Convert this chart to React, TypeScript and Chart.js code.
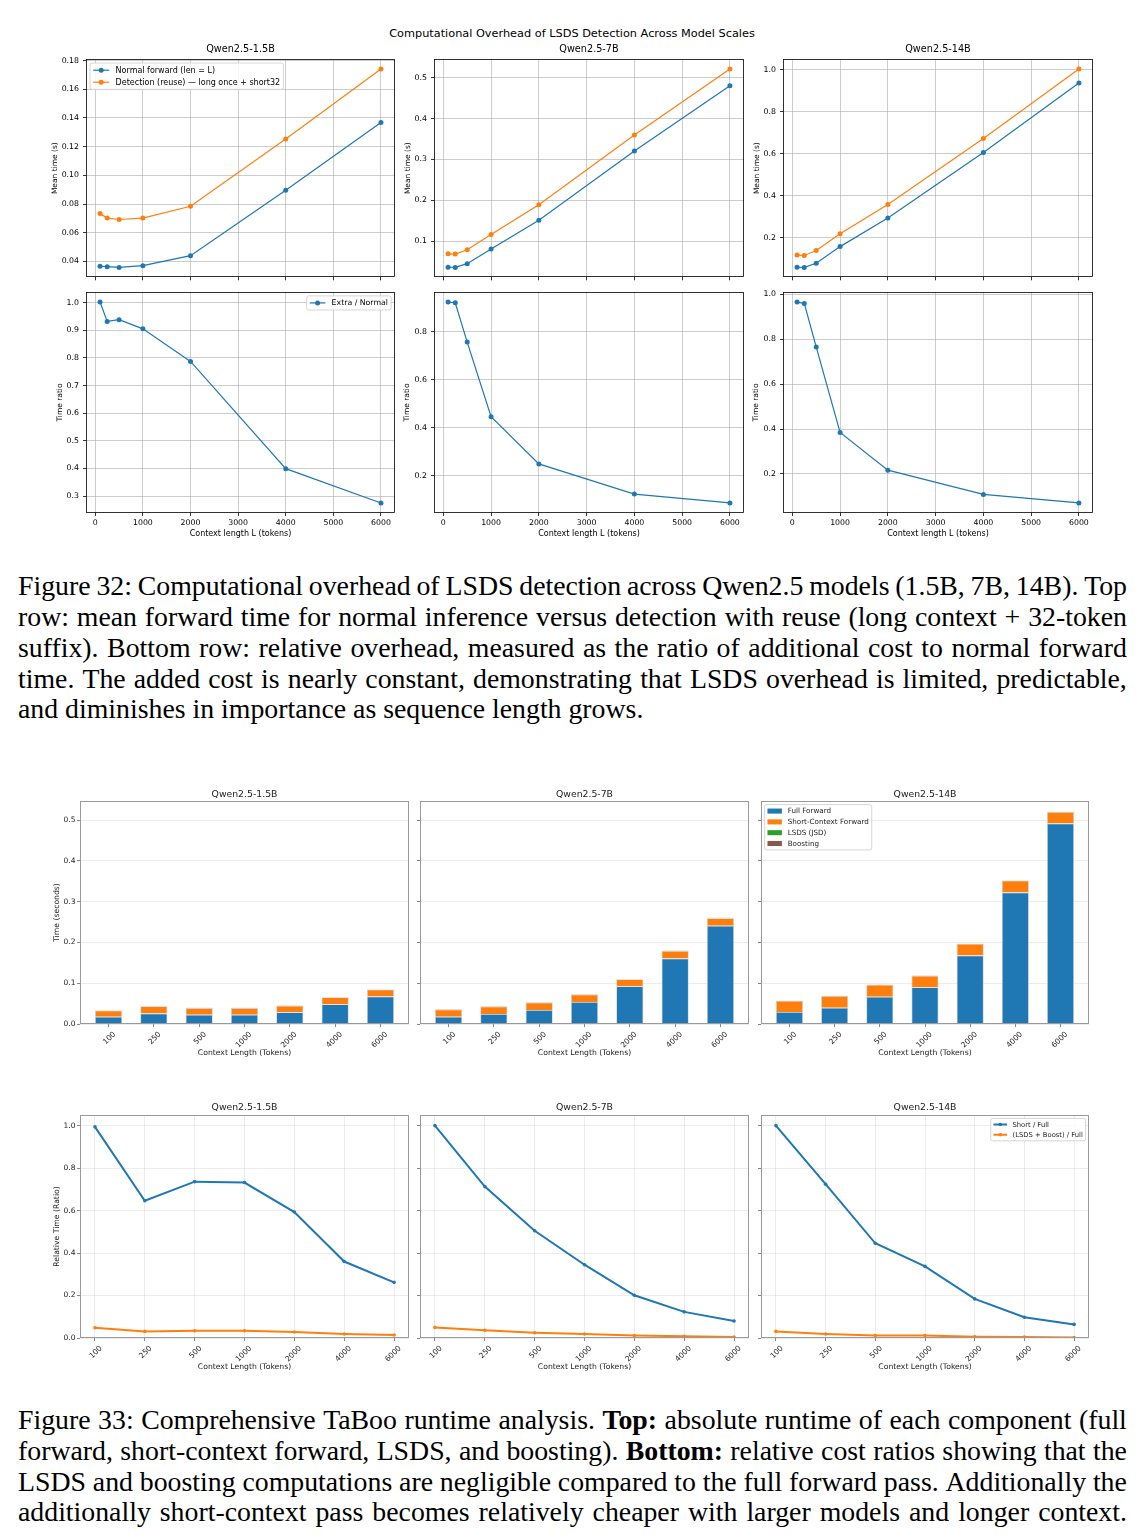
import React, { useEffect, useRef } from 'react';
import { Chart, registerables } from 'chart.js';

Chart.register(...registerables);

const SANS = "'DejaVu Sans', 'Liberation Sans', sans-serif";
const SERIF = "'Liberation Serif', 'DejaVu Serif', serif";
const BLUE = '#1f77b4';
const ORANGE = '#ff7f0e';
const GREEN = '#2ca02c';
const BROWN = '#8c564b';

// ---------------- data ----------------
const contextLengths = [100, 250, 500, 1000, 2000, 4000, 6000];
const contextLabels = ['100', '250', '500', '1000', '2000', '4000', '6000'];
const modelNames = ['Qwen2.5-1.5B', 'Qwen2.5-7B', 'Qwen2.5-14B'];

// Figure 32 (seconds, ratio)
const normalForward15 = [0.0366, 0.0363, 0.0358, 0.037, 0.044, 0.0896, 0.1369];
const detectionReuse15 = [0.0733, 0.0702, 0.0692, 0.0702, 0.0784, 0.1254, 0.1742];
const extraRatio15 = [1.002, 0.932, 0.938, 0.905, 0.787, 0.399, 0.275];
const normalForward7 = [0.0358, 0.0355, 0.0446, 0.0804, 0.151, 0.3206, 0.4806];
const detectionReuse7 = [0.0688, 0.0682, 0.0786, 0.1163, 0.1888, 0.3597, 0.5218];
const extraRatio7 = [0.924, 0.921, 0.757, 0.446, 0.249, 0.123, 0.086];
const normalForward14 = [0.06, 0.0592, 0.079, 0.158, 0.294, 0.606, 0.936];
const detectionReuse14 = [0.118, 0.116, 0.1394, 0.219, 0.358, 0.672, 1.003];
const extraRatio14 = [0.966, 0.96, 0.766, 0.385, 0.217, 0.109, 0.071];

const lengthTicks = [0, 1000, 2000, 3000, 4000, 5000, 6000];
const meanTicks15 = [0.04, 0.06, 0.08, 0.1, 0.12, 0.14, 0.16, 0.18];
const meanTicks7 = [0.1, 0.2, 0.3, 0.4, 0.5];
const meanTicks14 = [0.2, 0.4, 0.6, 0.8, 1.0];
const ratioTicks15 = [0.3, 0.4, 0.5, 0.6, 0.7, 0.8, 0.9, 1.0];
const ratioTicks7 = [0.2, 0.4, 0.6, 0.8];
const ratioTicks14 = [0.2, 0.4, 0.6, 0.8, 1.0];

// Figure 33 (seconds)
const fullForward15 = [0.018, 0.026, 0.023, 0.023, 0.029, 0.0486, 0.0675];
const shortForward15 = [0.015, 0.0175, 0.016, 0.016, 0.016, 0.017, 0.017];
const lsdsJsd15 = [0.0004, 0.0004, 0.0004, 0.0004, 0.0005, 0.0005, 0.0005];
const boosting15 = [0.0006, 0.0006, 0.0006, 0.0006, 0.0006, 0.0006, 0.0007];
const fullForward7 = [0.018, 0.0246, 0.0344, 0.054, 0.0926, 0.1607, 0.241];
const shortForward7 = [0.018, 0.0187, 0.0186, 0.0188, 0.0171, 0.0186, 0.0187];
const lsdsJsd7 = [0.0004, 0.0004, 0.0004, 0.0004, 0.0005, 0.0005, 0.0005];
const boosting7 = [0.0006, 0.0006, 0.0006, 0.0006, 0.0006, 0.0006, 0.0006];
const fullForward14 = [0.0295, 0.04, 0.067, 0.09, 0.168, 0.323, 0.492];
const shortForward14 = [0.0275, 0.0287, 0.0295, 0.0287, 0.029, 0.029, 0.028];
const lsdsJsd14 = [0.0004, 0.0004, 0.0004, 0.0004, 0.0004, 0.0005, 0.0005];
const boosting14 = [0.0006, 0.0006, 0.0006, 0.0006, 0.0006, 0.0006, 0.0006];

// Figure 33 relative time (ratio)
const shortOverFull15 = [0.994, 0.646, 0.736, 0.732, 0.593, 0.36, 0.262];
const lsdsBoostOverFull15 = [0.048, 0.031, 0.034, 0.034, 0.028, 0.019, 0.014];
const shortOverFull7 = [1.0, 0.713, 0.505, 0.345, 0.201, 0.123, 0.08];
const lsdsBoostOverFull7 = [0.05, 0.036, 0.025, 0.019, 0.012, 0.008, 0.005];
const shortOverFull14 = [1.0, 0.724, 0.446, 0.337, 0.184, 0.098, 0.064];
const lsdsBoostOverFull14 = [0.031, 0.019, 0.012, 0.012, 0.006, 0.005, 0.002];

const barTicks = [0, 0.1, 0.2, 0.3, 0.4, 0.5];
const relTicks = [0, 0.2, 0.4, 0.6, 0.8, 1.0];

const suptitle = 'Computational Overhead of LSDS Detection Across Model Scales';

const caption32 = [
  'Figure 32: Computational overhead of LSDS detection across Qwen2.5 models (1.5B, 7B, 14B). Top',
  'row: mean forward time for normal inference versus detection with reuse (long context + 32-token',
  'suffix). Bottom row: relative overhead, measured as the ratio of additional cost to normal forward',
  'time. The added cost is nearly constant, demonstrating that LSDS overhead is limited, predictable,',
  'and diminishes in importance as sequence length grows.',
];
const caption33 = [
  'Figure 33: Comprehensive TaBoo runtime analysis. **Top:** absolute runtime of each component (full',
  'forward, short-context forward, LSDS, and boosting). **Bottom:** relative cost ratios showing that the',
  'LSDS and boosting computations are negligible compared to the full forward pass. Additionally the',
  'additionally short-context pass becomes relatively cheaper with larger models and longer context.',
];

// ---------------- helpers ----------------
function padRange(vals: number[], frac = 0.05): [number, number] {
  const lo = Math.min(...vals);
  const hi = Math.max(...vals);
  const d = (hi - lo) * frac;
  return [lo - d, hi + d];
}

function roundRectPath(ctx: any, x: number, y: number, w: number, h: number, r: number) {
  ctx.beginPath();
  ctx.moveTo(x + r, y);
  ctx.lineTo(x + w - r, y);
  ctx.arcTo(x + w, y, x + w, y + r, r);
  ctx.lineTo(x + w, y + h - r);
  ctx.arcTo(x + w, y + h, x + w - r, y + h, r);
  ctx.lineTo(x + r, y + h);
  ctx.arcTo(x, y + h, x, y + h - r, r);
  ctx.lineTo(x, y + r);
  ctx.arcTo(x, y, x + r, y, r);
  ctx.closePath();
}

const framePlugin = {
  id: 'frame',
  afterDatasetsDraw(chart: any, _a: any, opts: any) {
    if (!opts || !opts.color) return;
    const { ctx, chartArea: a } = chart;
    ctx.save();
    ctx.strokeStyle = opts.color;
    ctx.lineWidth = opts.width || 1;
    const l = Math.round(a.left) + 0.5;
    const t = Math.round(a.top) + 0.5;
    const r = Math.round(a.right) - 0.5;
    const b = Math.round(a.bottom) - 0.5;
    ctx.strokeRect(l, t, r - l, b - t);
    ctx.restore();
  },
};

const boxLegendPlugin = {
  id: 'boxLegend',
  afterDatasetsDraw(chart: any, _a: any, opts: any) {
    if (!opts || !opts.show) return;
    const { ctx, chartArea: a } = chart;
    const f = opts.size;
    const ds = chart.data.datasets;
    ctx.save();
    ctx.font = `${f}px ${SANS}`;
    const pad = 0.4 * f;
    const hl = 2 * f;
    const htp = 0.8 * f;
    const row = f;
    const gap = 0.5 * f;
    const axp = 0.5 * f;
    const tw = Math.max(...ds.map((d: any) => ctx.measureText(d.label).width));
    const w = 2 * pad + hl + htp + tw;
    const h = 2 * pad + ds.length * row + (ds.length - 1) * gap;
    const x = opts.corner === 'tl' ? a.left + axp : a.right - axp - w;
    const y = a.top + axp;
    roundRectPath(ctx, x, y, w, h, 0.25 * f);
    ctx.fillStyle = 'rgba(255,255,255,0.85)';
    ctx.fill();
    ctx.strokeStyle = '#cccccc';
    ctx.lineWidth = 0.8;
    ctx.stroke();
    ds.forEach((d: any, i: number) => {
      const cy = y + pad + i * (row + gap) + row / 2;
      const hx = x + pad;
      if (opts.kind === 'box') {
        ctx.fillStyle = d.backgroundColor;
        ctx.fillRect(hx, cy - 0.35 * f, hl, 0.7 * f);
      } else {
        ctx.strokeStyle = d.borderColor;
        ctx.lineWidth = d.borderWidth;
        ctx.beginPath();
        ctx.moveTo(hx, cy);
        ctx.lineTo(hx + hl, cy);
        ctx.stroke();
        if (d.pointRadius > 0) {
          ctx.fillStyle = d.borderColor;
          ctx.beginPath();
          ctx.arc(hx + hl / 2, cy, d.pointRadius, 0, Math.PI * 2);
          ctx.fill();
        }
      }
      ctx.fillStyle = opts.textColor || '#000';
      ctx.textBaseline = 'middle';
      ctx.textAlign = 'left';
      ctx.fillText(d.label, hx + hl + htp, cy + 0.5);
    });
    ctx.restore();
  },
};

Chart.register(framePlugin as any, boxLegendPlugin as any);
Chart.defaults.font.family = SANS;

type Box = { l: number; t: number; r: number; b: number };
type AxisSpec = {
  min: number;
  max: number;
  ticks: number[];
  fmt: (v: number) => string;
  tickSize: number;
  tickLen: number;
  tickPad: number;
  rotate?: number;
  labelOffset?: number;
  grid: boolean;
  title?: string;
  titleSize?: number;
  titleDist?: number;
};
type Theme = { spine: string; spineW: number; grid: string; tick: string; text: string };
type PanelSpec = {
  key: string;
  type: 'line' | 'bar';
  plot: Box;
  pad: Box;
  theme: Theme;
  title?: { text: string; size: number };
  x: AxisSpec;
  y: AxisSpec;
  datasets: () => any[];
  legend: any;
};

function axisOptions(a: AxisSpec, dir: 'x' | 'y', pad: Box, th: Theme, stacked: boolean) {
  const tsz = a.titleSize || 8;
  const lh = tsz * 1.2;
  const titlePad =
    dir === 'x'
      ? { top: 0, bottom: Math.max(0, pad.b - (a.titleDist || 0) - lh / 2) }
      : { top: Math.max(0, pad.l - (a.titleDist || 0) - lh / 2), bottom: 0 };
  const opts: any = {
    type: 'linear',
    min: a.min,
    max: a.max,
    bounds: 'data',
    offset: false,
    afterBuildTicks: (s: any) => {
      s.ticks = a.ticks.map((v) => ({ value: v }));
    },
    afterFit: (s: any) => {
      if (dir === 'x') s.height = pad.b;
      else s.width = pad.l;
    },
    grid: {
      display: true,
      offset: false,
      drawOnChartArea: a.grid,
      color: th.grid,
      lineWidth: 0.8,
      drawTicks: true,
      tickLength: a.tickLen,
      tickColor: th.tick,
      tickWidth: 0.8,
    },
    border: { display: false },
    ticks: {
      autoSkip: false,
      minRotation: a.rotate || 0,
      maxRotation: a.rotate || 0,
      labelOffset: a.labelOffset || 0,
      padding: a.tickPad,
      color: th.text,
      font: { family: SANS, size: a.tickSize, lineHeight: 1.2 },
      callback: (v: any) => a.fmt(Number(v)),
    },
    title: a.title
      ? {
          display: true,
          text: a.title,
          color: th.text,
          font: { family: SANS, size: tsz, lineHeight: 1.2 },
          padding: titlePad,
        }
      : { display: false },
  };
  if (stacked) opts.stacked = true;
  return opts;
}

function buildConfig(s: PanelSpec): any {
  const th = s.theme;
  const titleH = s.title ? s.title.size * 1.2 : 0;
  return {
    type: s.type,
    data: { datasets: s.datasets() },
    options: {
      responsive: false,
      animation: false,
      events: [],
      layout: {
        autoPadding: false,
        padding: { left: 0, right: s.pad.r, top: s.title ? 0 : s.pad.t, bottom: 0 },
      },
      plugins: {
        legend: { display: false },
        tooltip: { enabled: false },
        title: s.title
          ? {
              display: true,
              text: s.title.text,
              fullSize: false,
              color: th.text,
              font: { family: SANS, size: s.title.size, weight: 'normal', lineHeight: 1.2 },
              padding: { top: 0, bottom: Math.max(0, s.pad.t - titleH) },
            }
          : { display: false },
        frame: { color: th.spine, width: th.spineW },
        boxLegend: s.legend ? { show: true, ...s.legend } : { show: false },
      },
      scales: {
        x: axisOptions(s.x, 'x', s.pad, th, false),
        y: axisOptions(s.y, 'y', s.pad, th, s.type === 'bar'),
      },
    },
  };
}

function lineDs(label: string, xs: number[], ys: number[], color: string, lw: number, r: number, order: number) {
  return {
    label,
    data: xs.map((x, i) => ({ x, y: ys[i] })),
    borderColor: color,
    backgroundColor: color,
    borderWidth: lw,
    pointRadius: r,
    pointHoverRadius: r,
    pointBackgroundColor: color,
    pointBorderWidth: 0,
    tension: 0,
    fill: false,
    order,
  };
}

function barDs(label: string, ys: number[], color: string) {
  return {
    label,
    data: ys.map((y, i) => ({ x: i, y })),
    backgroundColor: color,
    borderColor: '#cfcfcf',
    borderWidth: 0.8,
    borderSkipped: 'start',
    stack: 'all',
    barPercentage: 0.6,
    categoryPercentage: 1.0,
  };
}

// ---------------- layout ----------------
const THEME32: Theme = { spine: '#000000', spineW: 0.8, grid: 'rgba(176,176,176,0.8)', tick: '#000000', text: '#000000' };
const THEME33: Theme = { spine: '#9a9a9a', spineW: 1, grid: 'rgba(176,176,176,0.3)', tick: '#666666', text: '#222222' };

const COLS32 = [
  [86, 395],
  [434, 744],
  [783, 1093],
];
const COLS33 = [
  [80, 409],
  [420, 749],
  [761, 1089],
];

const fig32Series = [
  { normal: normalForward15, detect: detectionReuse15, ratio: extraRatio15, meanTicks: meanTicks15, dec: 2, ratioTicks: ratioTicks15 },
  { normal: normalForward7, detect: detectionReuse7, ratio: extraRatio7, meanTicks: meanTicks7, dec: 1, ratioTicks: ratioTicks7 },
  { normal: normalForward14, detect: detectionReuse14, ratio: extraRatio14, meanTicks: meanTicks14, dec: 1, ratioTicks: ratioTicks14 },
];
const fig33Bars = [
  { full: fullForward15, short: shortForward15, lsds: lsdsJsd15, boost: boosting15 },
  { full: fullForward7, short: shortForward7, lsds: lsdsJsd7, boost: boosting7 },
  { full: fullForward14, short: shortForward14, lsds: lsdsJsd14, boost: boosting14 },
];
const fig33Ratios = [
  { short: shortOverFull15, other: lsdsBoostOverFull15 },
  { short: shortOverFull7, other: lsdsBoostOverFull7 },
  { short: shortOverFull14, other: lsdsBoostOverFull14 },
];

function makePanels(): PanelSpec[] {
  const panels: PanelSpec[] = [];
  const xr32 = padRange(contextLengths);
  const meanTitleDist = [31, 26, 26];
  const ratioTitleDist = [26, 27, 27];
  fig32Series.forEach((m, i) => {
    const [l, r] = COLS32[i];
    const yr = padRange([...m.normal, ...m.detect]);
    panels.push({
      key: 'mean' + i,
      type: 'line',
      theme: THEME32,
      plot: { l, t: 59, r, b: 280 },
      pad: { l: 46, t: 15, r: 10, b: 6 },
      title: { text: modelNames[i], size: 9.7 },
      x: { min: xr32[0], max: xr32[1], ticks: lengthTicks, fmt: () => '', tickSize: 7.8, tickLen: 3, tickPad: 2, grid: true },
      y: {
        min: yr[0], max: yr[1], ticks: m.meanTicks, fmt: (v) => v.toFixed(m.dec),
        tickSize: 7.8, tickLen: 3, tickPad: 4, grid: true,
        title: 'Mean time (s)', titleSize: 7.5, titleDist: meanTitleDist[i],
      },
      datasets: () => [
        lineDs('Normal forward (len = L)', contextLengths, m.normal, BLUE, 1.2, 2.5, 1),
        lineDs('Detection (reuse) — long once + short32', contextLengths, m.detect, ORANGE, 1.2, 2.5, 0),
      ],
      legend: i === 0 ? { corner: 'tl', size: 8, kind: 'line' } : null,
    });
    const rr = padRange(m.ratio);
    panels.push({
      key: 'ratio' + i,
      type: 'line',
      theme: THEME32,
      plot: { l, t: 292, r, b: 513 },
      pad: { l: 46, t: 10, r: 10, b: 28 },
      x: {
        min: xr32[0], max: xr32[1], ticks: lengthTicks, fmt: (v) => String(v),
        tickSize: 7.8, tickLen: 3, tickPad: 2.3, grid: true,
        title: 'Context length L (tokens)', titleSize: 8, titleDist: 21,
      },
      y: {
        min: rr[0], max: rr[1], ticks: m.ratioTicks, fmt: (v) => v.toFixed(1),
        tickSize: 7.8, tickLen: 3, tickPad: 4, grid: true,
        title: 'Time ratio', titleSize: 7.5, titleDist: ratioTitleDist[i],
      },
      datasets: () => [lineDs('Extra / Normal', contextLengths, m.ratio, BLUE, 1.2, 2.5, 0)],
      legend: i === 0 ? { corner: 'tr', size: 7.8, kind: 'line' } : null,
    });
  });

  const idx = contextLengths.map((_, i) => i);
  const barHalf = 0.3;
  const barSpan = idx.length - 1 + 2 * barHalf;
  const barX: [number, number] = [-barHalf - 0.05 * barSpan, idx.length - 1 + barHalf + 0.05 * barSpan];
  const totals = fig33Bars.flatMap((m) => m.full.map((v, i) => v + m.short[i] + m.lsds[i] + m.boost[i]));
  const barYMax = Math.max(...totals) * 1.05;
  const lineX = padRange(idx);
  const allRatios = fig33Ratios.flatMap((m) => [...m.short, ...m.other]);
  const relTop = Math.max(...allRatios) + 0.05 * (Math.max(...allRatios) - Math.min(...allRatios));

  fig33Bars.forEach((m, i) => {
    const [l, r] = COLS33[i];
    panels.push({
      key: 'bar' + i,
      type: 'bar',
      theme: THEME33,
      plot: { l, t: 801, r, b: 1024 },
      pad: { l: 44, t: 12, r: 10, b: 36 },
      title: { text: modelNames[i], size: 9.3 },
      x: {
        min: barX[0], max: barX[1], ticks: idx, fmt: (v) => contextLabels[v] ?? '',
        tickSize: 7.5, tickLen: 3, tickPad: 3, rotate: 45, labelOffset: 6, grid: false,
        title: 'Context Length (Tokens)', titleSize: 7.7, titleDist: 29,
      },
      y: {
        min: 0, max: barYMax, ticks: barTicks, fmt: (v) => (i === 0 ? v.toFixed(1) : ''),
        tickSize: 7.5, tickLen: 3, tickPad: 1.5, grid: true,
        title: i === 0 ? 'Time (seconds)' : undefined, titleSize: 7.7, titleDist: 23,
      },
      datasets: () => [
        barDs('Full Forward', m.full, BLUE),
        barDs('Short-Context Forward', m.short, ORANGE),
        barDs('LSDS (JSD)', m.lsds, GREEN),
        barDs('Boosting', m.boost, BROWN),
      ],
      legend: i === 2 ? { corner: 'tl', size: 7.2, kind: 'box', textColor: '#222' } : null,
    });
  });

  fig33Ratios.forEach((m, i) => {
    const [l, r] = COLS33[i];
    panels.push({
      key: 'rel' + i,
      type: 'line',
      theme: THEME33,
      plot: { l, t: 1115, r, b: 1338 },
      pad: { l: 44, t: 13, r: 10, b: 36 },
      title: { text: modelNames[i], size: 9.3 },
      x: {
        min: lineX[0], max: lineX[1], ticks: idx, fmt: (v) => contextLabels[v] ?? '',
        tickSize: 7.5, tickLen: 3, tickPad: 3, rotate: 45, labelOffset: 6, grid: true,
        title: 'Context Length (Tokens)', titleSize: 7.7, titleDist: 29,
      },
      y: {
        min: 0, max: relTop, ticks: relTicks, fmt: (v) => (i === 0 ? v.toFixed(1) : ''),
        tickSize: 7.5, tickLen: 3, tickPad: 1.5, grid: true,
        title: i === 0 ? 'Relative Time (Ratio)' : undefined, titleSize: 7.7, titleDist: 23,
      },
      datasets: () => [
        lineDs('Short / Full', idx, m.short, BLUE, 2, 1.8, 1),
        lineDs('(LSDS + Boost) / Full', idx, m.other, ORANGE, 2, 1.8, 0),
      ],
      legend: i === 2 ? { corner: 'tr', size: 6.8, kind: 'line', textColor: '#222' } : null,
    });
  });
  return panels;
}

function ChartPanel({ spec }: { spec: PanelSpec }) {
  const ref = useRef<HTMLCanvasElement>(null);
  useEffect(() => {
    if (!ref.current) return;
    const chart = new Chart(ref.current, buildConfig(spec));
    return () => chart.destroy();
  }, []);
  const w = spec.plot.r - spec.plot.l + spec.pad.l + spec.pad.r;
  const h = spec.plot.b - spec.plot.t + spec.pad.t + spec.pad.b;
  return (
    <canvas
      ref={ref}
      width={w}
      height={h}
      style={{ position: 'absolute', left: spec.plot.l - spec.pad.l, top: spec.plot.t - spec.pad.t, width: w, height: h }}
    />
  );
}

const CAP_FS = 27.8;

function renderWord(wd: string, i: number) {
  const bold = wd.startsWith('**') && wd.endsWith('**');
  const t = bold ? wd.slice(2, -2) : wd;
  return (
    <span key={i} style={{ fontWeight: bold ? 'bold' : 'normal' }}>
      {t}
    </span>
  );
}

function CaptionLine({ text, yc, justify }: { text: string; yc: number; justify: boolean }) {
  const words = text.split(' ');
  const base: any = {
    position: 'absolute',
    left: 18,
    width: 1109,
    top: yc - 16,
    height: 31,
    lineHeight: '31px',
    fontFamily: SERIF,
    fontSize: CAP_FS,
    color: '#000',
    whiteSpace: 'nowrap',
  };
  if (justify) {
    return <div style={{ ...base, display: 'flex', justifyContent: 'space-between' }}>{words.map(renderWord)}</div>;
  }
  return (
    <div style={base}>
      {words.map((wd, i) => (
        <React.Fragment key={i}>
          {i > 0 ? ' ' : ''}
          {renderWord(wd, i)}
        </React.Fragment>
      ))}
    </div>
  );
}

const cap32Y = [586, 617, 648, 679, 709];
const cap33Y = [1420, 1451, 1482, 1512];

export default function App() {
  const panels = makePanels();
  return (
    <div style={{ position: 'absolute', left: 0, top: 0, width: 1148, height: 1540, background: '#fff', overflow: 'hidden' }}>
      <div
        style={{
          position: 'absolute', left: 0, width: 1144, top: 27, height: 14, lineHeight: '14px',
          textAlign: 'center', fontFamily: SANS, fontSize: 11.3, color: '#000',
        }}
      >
        {suptitle}
      </div>
      {panels.map((p) => (
        <ChartPanel key={p.key} spec={p} />
      ))}
      {caption32.map((t, i) => (
        <CaptionLine key={'c32' + i} text={t} yc={cap32Y[i]} justify={i < caption32.length - 1} />
      ))}
      {caption33.map((t, i) => (
        <CaptionLine key={'c33' + i} text={t} yc={cap33Y[i]} justify={true} />
      ))}
    </div>
  );
}
